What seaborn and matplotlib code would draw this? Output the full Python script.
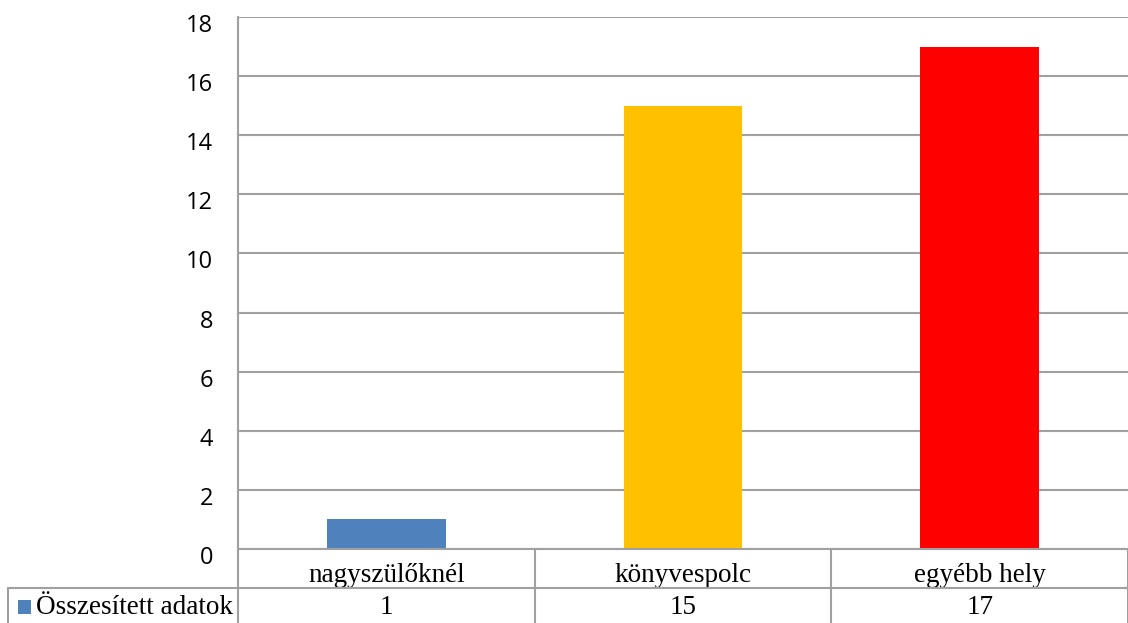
import matplotlib
matplotlib.use("Agg")
import matplotlib.pyplot as plt
import matplotlib.transforms as mtransforms
from matplotlib.patches import Rectangle
import seaborn as sns
import pandas as pd

categories = ["nagyszülőknél", "könyvespolc", "egyébb hely"]
values = [1, 15, 17]
colors = ["#4F81BD", "#FFC000", "#FF0000"]
series_name = "Összesített adatok"
yticks = [0, 2, 4, 6, 8, 10, 12, 14, 16, 18]

sns.set_style("white")
plt.rcParams["font.family"] = ["Open Sans", "DejaVu Sans"]

W, H = 1128, 623
fig = plt.figure(figsize=(W / 100, H / 100), dpi=100)
ax = fig.add_axes([238 / W, (H - 549) / H, 890 / W, 532 / H])

df = pd.DataFrame({"cat": categories, "val": values})
sns.barplot(data=df, x="cat", y="val", hue="cat", palette=colors, width=0.4,
            legend=False, ax=ax, saturation=1, linewidth=0, edgecolor="none")

ax.set_xlim(-0.5, 2.5)
ax.set_ylim(0, 18)
ax.set_yticks(yticks)
ax.set_yticklabels([str(t) for t in yticks], fontsize=17, color="black")
ax.tick_params(axis="y", length=0, pad=18)
off = mtransforms.ScaledTranslation(0, -6 / 100, fig.dpi_scale_trans)
for lab in ax.get_yticklabels():
    lab.set_transform(lab.get_transform() + off)
ax.set_xticks([])
ax.set_xlabel("")
ax.set_ylabel("")
gc = "#A0A0A0"
ax.grid(axis="y", color=gc, linewidth=1.5)
ax.set_axisbelow(True)
for s in ["top", "right", "bottom"]:
    ax.spines[s].set_visible(False)
ax.spines["left"].set_color(gc)
ax.spines["left"].set_linewidth(1.5)

# data table below
trans = mtransforms.blended_transform_factory(ax.transData, ax.transAxes)
def py2ay(py):
    return (549 - py) / 532

for xb in [-0.5, 0.5, 1.5, 2.5]:
    ax.plot([xb, xb], [0, py2ay(630)], transform=trans, color=gc, lw=1.5, clip_on=False)
ax.plot([0, 1], [0, 0], transform=ax.transAxes, color=gc, lw=1.5, clip_on=False)

figt = fig.transFigure
fig.add_artist(plt.Line2D([8 / W, 1.0], [(H - 588) / H] * 2, color=gc, lw=1.5, transform=figt))
fig.add_artist(plt.Line2D([8 / W, 8 / W], [(H - 588) / H, 0], color=gc, lw=1.5, transform=figt))

serif = ["Liberation Serif", "DejaVu Serif"]
for i, (c, v) in enumerate(zip(categories, values)):
    ax.text(i, py2ay(576), c, transform=trans, ha="center", va="center",
            fontsize=19.5, family=serif, color="black")
    ax.text(i, py2ay(608), str(v), transform=trans, ha="center", va="center",
            fontsize=19.5, family=serif, color="black")

fig.add_artist(Rectangle((18 / W, (H - 614) / H), 13 / W, 14 / H, transform=figt,
                         facecolor=colors[0], edgecolor="none"))
fig.text(36 / W, (H - 608) / H, series_name, ha="left", va="center",
         fontsize=19.5, family=serif, color="black")

fig.savefig("out.png", dpi=100, facecolor="white")
